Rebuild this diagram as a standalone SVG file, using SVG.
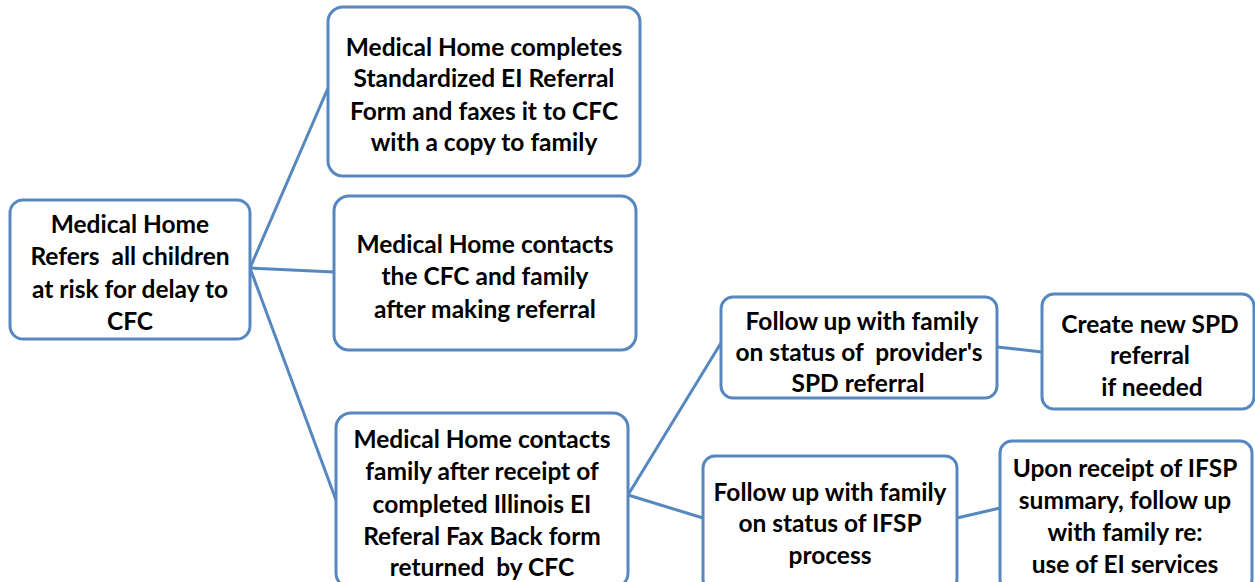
<svg xmlns="http://www.w3.org/2000/svg" width="1255" height="582" viewBox="0 0 1255 582">
<style>
.box{fill:#fff;stroke:#5687bf;stroke-width:3}
.ln{stroke:#5687bf;stroke-width:3;fill:none}
text{font-family:Lato,"Liberation Sans",sans-serif;font-weight:bold;font-size:24.5px;fill:#000;text-anchor:middle;dominant-baseline:central;white-space:pre}
</style>
<rect width="1255" height="582" fill="#fff"/>
<g id="connectors">
<line class="ln" x1="250" y1="268" x2="328" y2="88"/>
<line class="ln" x1="250" y1="268" x2="334" y2="272"/>
<line class="ln" x1="250" y1="268" x2="336" y2="500"/>
<line class="ln" x1="628" y1="495" x2="721" y2="343"/>
<line class="ln" x1="628" y1="495" x2="703" y2="518"/>
<line class="ln" x1="997" y1="347" x2="1042" y2="352"/>
<line class="ln" x1="957" y1="518" x2="1000" y2="508"/>
</g>
<g id="nodeA">
<rect class="box" x="10" y="200" width="240" height="139" rx="13"/>
<text x="130" y="223">Medical Home</text>
<text x="130" y="255">Refers  all children</text>
<text x="130" y="288">at risk for delay to</text>
<text x="130" y="320">CFC</text>
</g>
<g id="nodeB">
<rect class="box" x="328" y="7" width="312" height="169" rx="15"/>
<text x="484" y="46">Medical Home completes</text>
<text x="484" y="77">Standardized EI Referral</text>
<text x="484" y="110">Form and faxes it to CFC</text>
<text x="484" y="141">with a copy to family</text>
</g>
<g id="nodeC">
<rect class="box" x="334" y="196" width="302" height="154" rx="15"/>
<text x="485" y="243">Medical Home contacts</text>
<text x="485" y="275">the CFC and family</text>
<text x="485" y="308">after making referral</text>
</g>
<g id="nodeD">
<rect class="box" x="336" y="413" width="292" height="175" rx="15"/>
<text x="482" y="438">Medical Home contacts</text>
<text x="482" y="470">family after receipt of</text>
<text x="482" y="503">completed Illinois EI</text>
<text x="482" y="535">Referal Fax Back form</text>
<text x="482" y="566">returned  by CFC</text>
</g>
<g id="nodeE">
<rect class="box" x="721" y="297" width="276" height="101" rx="12"/>
<text x="862" y="320">Follow up with family</text>
<text x="859" y="351">on status of  provider's</text>
<text x="858" y="382">SPD referral</text>
</g>
<g id="nodeF">
<rect class="box" x="1042" y="294" width="212" height="115" rx="12"/>
<text x="1150" y="323">Create new SPD</text>
<text x="1150" y="354">referral</text>
<text x="1152" y="386">if needed</text>
</g>
<g id="nodeG">
<rect class="box" x="703" y="456" width="254" height="135" rx="12"/>
<text x="830" y="491">Follow up with family</text>
<text x="830" y="522">on status of IFSP</text>
<text x="830" y="554">process</text>
</g>
<g id="nodeH">
<rect class="box" x="1000" y="441" width="252" height="150" rx="12"/>
<text x="1125" y="467">Upon receipt of IFSP</text>
<text x="1125" y="499">summary, follow up</text>
<text x="1125" y="531">with family re:</text>
<text x="1125" y="563">use of EI services</text>
</g>
</svg>
